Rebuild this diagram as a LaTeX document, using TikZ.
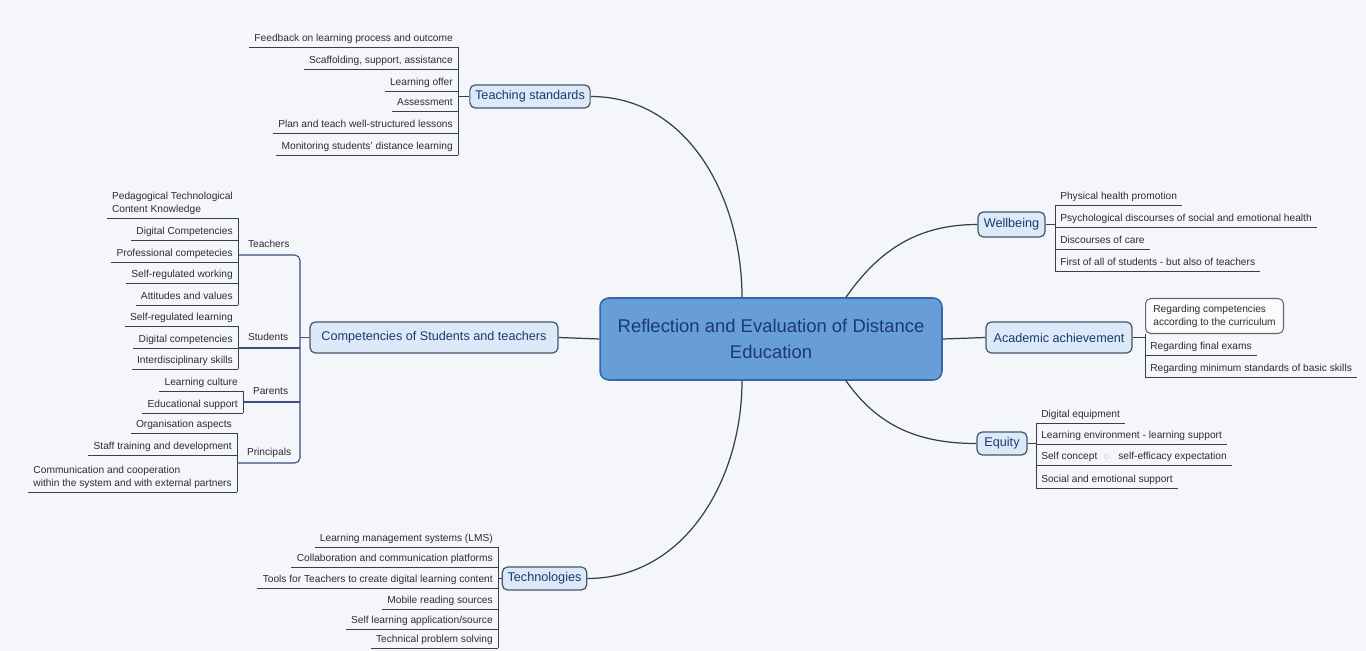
\documentclass[tikz,border=0pt]{standalone}
\usepackage{fontspec}
\setmainfont{Liberation Sans}
\usepackage{tikz}

\definecolor{bgcol}{RGB}{244,246,250}
\definecolor{mainfill}{RGB}{104,158,216}
\definecolor{maindraw}{RGB}{52,104,168}
\definecolor{maintext}{RGB}{28,58,108}
\definecolor{subfill}{RGB}{220,233,248}
\definecolor{subdraw}{RGB}{70,85,105}
\definecolor{linecol}{RGB}{55,62,78}
\definecolor{spinecol}{RGB}{60,78,130}
\definecolor{leaftext}{RGB}{45,45,45}

\begin{document}
\begin{tikzpicture}[x=0.02cm, y=-0.02cm,
  centre/.style={draw=maindraw, fill=mainfill, rounded corners=5pt, line width=0.9pt, text=maintext,
    align=center, font=\fontsize{10.5}{14.8}\selectfont, minimum width=6.84cm, minimum height=1.64cm},
  topic/.style={draw=subdraw, fill=subfill, rounded corners=3pt, line width=0.7pt, text=maintext,
    font=\fontsize{7.2}{9}\selectfont, inner xsep=3pt, inner ysep=0pt},
  leaf/.style={font=\fontsize{5.8}{7.4}\selectfont, text=leaftext, inner xsep=2.8pt, inner ysep=1.5pt, text depth=1.2pt,
    append after command={(\tikzlastnode.south west) edge[draw=linecol, line width=0.5pt] (\tikzlastnode.south east)}},
  lleaf/.style={leaf, anchor=south east, align=right},
  rleaf/.style={leaf, anchor=south west, align=left},
  grp/.style={font=\fontsize{5.8}{7.4}\selectfont, text=leaftext, anchor=south west, inner xsep=5.5pt, inner ysep=3pt, text depth=1.2pt},
  tline/.style={draw=linecol, line width=0.5pt},
  sline/.style={draw=spinecol, line width=0.6pt},
  curve/.style={draw=linecol, line width=0.7pt}]
\useasboundingbox (0,0) rectangle (1366,651);
\fill[bgcol] (0,0) rectangle (1366,651);

\node[centre] (main) at (771,339) {Reflection and Evaluation of Distance\\Education};

% teaching standards
\node[topic, minimum width=2.4cm, minimum height=0.46cm] (ts) at (530,96.5) {Teaching standards};
\node[lleaf] (ts1) at (458,47) {Feedback on learning process and outcome};
\node[lleaf] (ts2) at (458,69) {Scaffolding, support, assistance};
\node[lleaf] (ts3) at (458,91) {Learning offer};
\node[lleaf] (ts4) at (458,111) {Assessment};
\node[lleaf] (ts5) at (458,133) {Plan and teach well-structured lessons};
\node[lleaf] (ts6) at (458,155) {Monitoring students’ distance learning};
\draw[tline] (ts1.south east) -- (ts6.south east);
\draw[tline] (ts.west) -- (ts.west -| ts1.south east);

% competencies
\node[topic, minimum width=4.96cm, minimum height=0.62cm] (comp) at (434,337.5) {Competencies of Students and teachers};
\coordinate (lspine) at (300,338);
\node[grp] (tch) at (238,255) {Teachers};
\node[grp] (stu) at (238,348) {Students};
\node[grp] (par) at (243,402) {Parents};
\node[grp] (pri) at (237,463) {Principals};
\node[lleaf, align=left] (tch1) at (238,218) {Pedagogical Technological\\Content Knowledge};
\node[lleaf] (tch2) at (238,240) {Digital Competencies};
\node[lleaf] (tch3) at (238,262) {Professional competecies};
\node[lleaf] (tch4) at (238,283) {Self-regulated working};
\node[lleaf] (tch5) at (238,305) {Attitudes and values};
\node[lleaf] (stu1) at (238,326) {Self-regulated learning};
\node[lleaf] (stu2) at (238,348) {Digital competencies};
\node[lleaf] (stu3) at (238,369) {Interdisciplinary skills};
\node[lleaf] (par1) at (243,391) {Learning culture};
\node[lleaf] (par2) at (243,413) {Educational support};
\node[lleaf] (pri1) at (237,433) {Organisation aspects};
\node[lleaf] (pri2) at (237,455) {Staff training and development};
\node[lleaf, align=left] (pri3) at (237,492) {Communication and cooperation\\within the system and with external partners};
\draw[tline] (tch1.south east) -- (tch5.south east);
\draw[tline] (stu1.south east) -- (stu3.south east);
\draw[tline] (par1.south east) -- (par2.south east);
\draw[tline] (pri1.south east) -- (pri3.south east);
\draw[sline, rounded corners=3pt] (tch.south west) -| (pri.south -| lspine) -- (pri.south west);
\draw[sline] (stu.south west) -- (stu.south -| lspine);
\draw[sline] (par.south west) -- (par.south -| lspine);
\draw[sline] (comp.west) -- (comp.west -| lspine);

% technologies
\node[topic, minimum width=1.3cm, minimum height=0.46cm] (tec) at (544.5,578.5) {Technologies};
\node[lleaf] (tec1) at (498,547) {Learning management systems (LMS)};
\node[lleaf] (tec2) at (498,567) {Collaboration and communication platforms};
\node[lleaf] (tec3) at (498,588) {Tools for Teachers to create digital learning content};
\node[lleaf] (tec4) at (498,609) {Mobile reading sources};
\node[lleaf] (tec5) at (498,629) {Self learning application/source};
\node[lleaf] (tec6) at (498,648) {Technical problem solving};
\draw[tline] (tec1.south east) -- (tec6.south east);
\draw[tline] (tec.west) -- (tec.west -| tec1.south east);

% wellbeing
\node[topic, minimum width=1.34cm, minimum height=0.5cm] (wb) at (1011.5,224.5) {Wellbeing};
\node[rleaf] (wb1) at (1055,205) {Physical health promotion};
\node[rleaf] (wb2) at (1055,227) {Psychological discourses of social and emotional health};
\node[rleaf] (wb3) at (1055,249) {Discourses of care};
\node[rleaf] (wb4) at (1055,271) {First of all of students - but also of teachers};
\draw[tline] (wb1.south west) -- (wb4.south west);
\draw[tline] (wb.east) -- (wb.east -| wb1.south west);

% academic achievement
\node[topic, minimum width=2.92cm, minimum height=0.62cm] (acad) at (1059,337.5) {Academic achievement};
\node[draw=gray!80!black, fill=white!55!bgcol, rounded corners=3pt, line width=0.6pt, anchor=north west,
  align=left, font=\fontsize{5.8}{7.4}\selectfont, text=leaftext, minimum width=2.76cm, minimum height=0.7cm,
  inner xsep=3pt] (ac1) at (1145,298) {Regarding competencies\\according to the curriculum};
\node[rleaf] (ac2) at (1145,355) {Regarding final exams};
\node[rleaf] (ac3) at (1145,377) {Regarding minimum standards of basic skills};
\draw[tline] (ac1.south west) -- (ac3.south west);
\draw[tline] (acad.east) -- (acad.east -| ac1.south west);

% equity
\node[topic, minimum width=1.0cm, minimum height=0.46cm] (eq) at (1002,443.5) {Equity};
\node[rleaf] (eq1) at (1036,423) {Digital equipment};
\node[rleaf] (eq2) at (1036,444) {Learning environment - learning support};
\node[rleaf] (eq3) at (1036,465) {Self concept\ \ {\color{gray!45}$\circ$}\ \ \ self-efficacy expectation};
\node[rleaf] (eq4) at (1036,488) {Social and emotional support};
\draw[tline] (eq1.south west) -- (eq4.south west);
\draw[tline] (eq.east) -- (eq.east -| eq1.south west);

% main branches
\draw[curve] (ts.east) to[out=0, in=90] ([xshift=-0.58cm]main.north);
\draw[curve] (tec.east) to[out=0, in=-90] ([xshift=-0.58cm]main.south);
\draw[curve] ([xshift=1.5cm]main.north) to[out=55, in=180] (wb.west);
\draw[curve] ([xshift=1.5cm]main.south) to[out=-55, in=180] (eq.west);
\draw[curve] (comp.east) -- (main.west);
\draw[curve] (main.east) -- (acad.west);
\end{tikzpicture}
\end{document}
